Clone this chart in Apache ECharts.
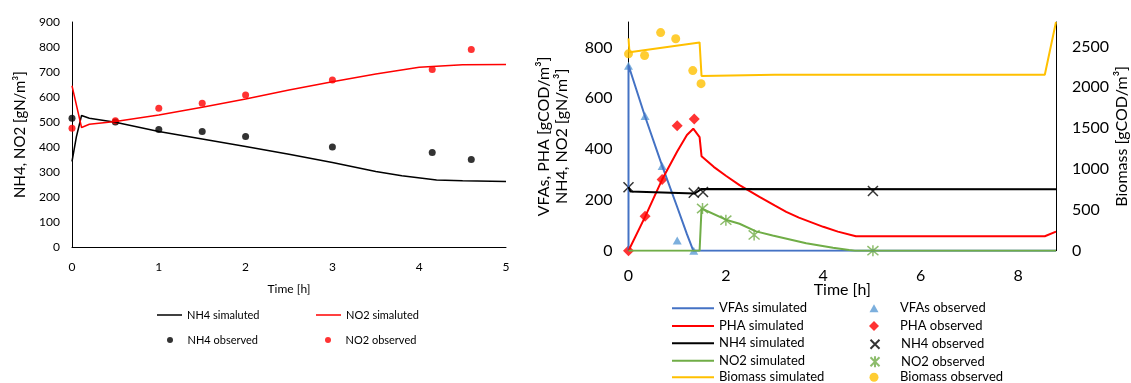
<!DOCTYPE html>
<html><head><meta charset="utf-8">
<script src="https://cdn.jsdelivr.net/npm/echarts@6/dist/echarts.min.js"></script>
<style>html,body{margin:0;padding:0;background:#fff}#c{width:1131px;height:383px}</style>
</head><body><div id="c"></div>
<script>
// ---------- Left chart data (Time [h], gN/m3) ----------
const leftSimTimeNH4 = [0, 0.05, 0.11, 0.2, 0.5, 1, 1.5, 2, 2.5, 3, 3.5, 3.8, 4.2, 4.5, 5];
const leftSimNH4     = [342, 440, 526, 515, 499, 462, 432, 402, 371, 338, 302, 285, 268, 265, 262];
const leftSimTimeNO2 = [0, 0.11, 0.2, 0.5, 1, 1.5, 2, 2.5, 3, 3.5, 4, 4.5, 5];
const leftSimNO2     = [645, 478, 491, 502, 528, 559, 592, 628, 661, 692, 719, 729, 730];
const leftObsTime    = [0, 0.5, 1, 1.5, 2, 3, 4.15, 4.6];
const leftObsNH4     = [515, 500, 470, 462, 442, 400, 378, 350];
const leftObsNO2     = [475, 505, 555, 575, 608, 668, 710, 790];

// ---------- Right chart data ----------
const vfaSimTime  = [0, 0, 0.34, 0.69, 1.0, 1.2, 1.33, 8.78];
const vfaSim      = [0, 730, 528, 335, 172, 65, 0, 0];
const phaSimTime  = [0, 0.34, 0.69, 1.0, 1.2, 1.33, 1.46, 1.5, 1.75, 2.0, 2.28, 2.69, 3.0, 3.24, 3.5, 4.0, 4.3, 4.67, 8.55, 8.78];
const phaSim      = [0, 133, 280, 390, 455, 480, 447, 372, 330, 295, 258, 212, 178, 153, 130, 94, 75, 57, 57, 75];
const nh4SimTime  = [0, 0.04, 1.36, 1.5, 8.78];
const nh4Sim      = [251, 233, 225, 243, 242];
const no2SimTime  = [0, 1.46, 1.5, 2.0, 2.28, 2.62, 2.96, 3.65, 4.2, 4.53, 4.65, 8.78];
const no2Sim      = [0, 0, 166, 122, 106, 76, 60, 29, 12, 3, 0, 0];
const bioSimTime  = [0, 0.02, 1.46, 1.5, 3, 8.55, 8.78];
const bioSim      = [2600, 2430, 2550, 2140, 2155, 2155, 2800];

const vfaObsTime = [0, 0.34, 0.69, 1.0, 1.34];
const vfaObs     = [728, 530, 333, 40, 0];
const phaObsTime = [0, 0.34, 0.69, 1.0, 1.35];
const phaObs     = [0, 136, 280, 492, 518];
const nh4ObsTime = [0, 1.34, 1.53, 5.02];
const nh4Obs     = [250, 228, 231, 235];
const no2ObsTime = [1.52, 2.0, 2.58, 5.02];
const no2Obs     = [166, 120, 62, 0];
const bioObsTime = [0, 0.33, 0.66, 0.97, 1.32, 1.49];
const bioObs     = [2410, 2390, 2670, 2595, 2205, 2045];

const zip = (t, v) => t.map((x, i) => [x, v[i]]);
const FONT = 'Lato';
const X_SYM = 'path://M0,0L10,10M10,0L0,10';
const STAR_SYM = 'path://M0,0L10,10M10,0L0,10M5,-1L5,11';

// legend icon paths; bounding boxes padded with move-to points so they are drawn 1:1 in the icon box
const IC_S_LINE = 'path://M0,6.25H25V7.75H0ZM0,0M25,14';
const IC_S_DOT  = 'path://M9.5,7A3,3,0,1,1,15.5,7A3,3,0,1,1,9.5,7ZM0,0M25,14';
const IC_LINE   = 'path://M0,7H42V9H0ZM0,0M42,16';
const IC_TRI    = 'path://M21,4L25.5,12H16.5ZM0,0M42,16';
const IC_DIA    = 'path://M21,3L26,8L21,13L16,8ZM0,0M42,16';
const IC_X      = 'path://M16.5,3.5L25.5,12.5M25.5,3.5L16.5,12.5M0,0M42,16';
const IC_STAR   = 'path://M16.5,3.5L25.5,12.5M25.5,3.5L16.5,12.5M21,2.5L21,13.5M0,0M42,16';
const IC_CIRC   = 'path://M16.5,8A4.5,4.5,0,1,1,25.5,8A4.5,4.5,0,1,1,16.5,8ZM0,0M42,16';

function leg(name, icon, left, top, w, h, fs) {
  return { data: [{ name: name, icon: icon }], left: left, top: top, itemWidth: w, itemHeight: h, padding: 0,
    selectedMode: false, orient: 'horizontal',
    textStyle: { fontFamily: FONT, fontSize: fs, color: '#000' } };
}

const chart = echarts.init(document.getElementById('c'), null, { renderer: 'canvas' });
const axisLbl = (fs, m) => ({ fontFamily: FONT, fontSize: fs, color: '#000', margin: m, formatter: v => String(v) });
const blackLine = { show: true, onZero: false, lineStyle: { color: '#000', width: 1 } };

function lineS(name, xi, yi, color, width, t, v) {
  return { name: name, type: 'line', xAxisIndex: xi, yAxisIndex: yi, symbol: 'none', showSymbol: false,
    lineStyle: { color: color, width: width }, itemStyle: { color: color }, data: zip(t, v) };
}

chart.setOption({
  animation: false,
  textStyle: { fontFamily: FONT },
  grid: [
    { left: 72, top: 22, width: 434, height: 225 },
    { left: 628.5, top: 22, width: 428.5, height: 228.7 }
  ],
  xAxis: [
    { type: 'value', gridIndex: 0, min: 0, max: 5, interval: 1,
      axisLine: blackLine, axisTick: { show: false }, splitLine: { show: false },
      axisLabel: axisLbl(12, 14),
      name: 'Time [h]', nameLocation: 'middle', nameGap: 36, nameMoveOverlap: false,
      nameTextStyle: { fontFamily: FONT, fontSize: 12, color: '#000' } },
    { type: 'value', gridIndex: 1, min: 0, max: 8.78, interval: 2,
      axisLine: blackLine, axisTick: { show: false }, splitLine: { show: false },
      axisLabel: Object.assign(axisLbl(16, 17), { showMaxLabel: false }),
      name: 'Time [h]', nameLocation: 'middle', nameGap: 31, nameMoveOverlap: false,
      nameTextStyle: { fontFamily: FONT, fontSize: 16, color: '#000' } }
  ],
  yAxis: [
    { type: 'value', gridIndex: 0, min: 0, max: 900, interval: 100,
      axisLine: blackLine, axisTick: { show: false }, splitLine: { show: false },
      axisLabel: axisLbl(12, 12),
      name: 'NH4, NO2 [gN/m³]', nameLocation: 'middle', nameGap: 44,
      nameTextStyle: { fontFamily: FONT, fontSize: 15, color: '#000' } },
    { type: 'value', gridIndex: 1, min: 0, max: 900, interval: 200,
      axisLine: blackLine, axisTick: { show: false }, splitLine: { show: false },
      axisLabel: Object.assign(axisLbl(16, 16), { showMaxLabel: false }),
      name: 'VFAs, PHA [gCOD/m³]\nNH4, NO2 [gN/m³]', nameLocation: 'middle', nameGap: 58,
      nameTextStyle: { fontFamily: FONT, fontSize: 16, color: '#000', lineHeight: 18 } },
    { type: 'value', gridIndex: 1, position: 'right', min: 0, max: 2800, interval: 500,
      axisLine: blackLine, axisTick: { show: false }, splitLine: { show: false },
      axisLabel: Object.assign(axisLbl(16, 16), { showMaxLabel: false }),
      name: 'Biomass [gCOD/m³]', nameLocation: 'middle', nameGap: 58,
      nameTextStyle: { fontFamily: FONT, fontSize: 16, color: '#000' } }
  ],
  legend: [
    leg('NH4 simaluted', IC_S_LINE, 157, 308, 25, 14, 11),
    leg('NO2 simaluted', IC_S_LINE, 316, 308, 25, 14, 11),
    leg('NH4 observed', IC_S_DOT, 157.5, 333, 25, 14, 11),
    leg('NO2 observed', IC_S_DOT, 315.5, 333, 25, 14, 11),
    leg('VFAs simulated', IC_LINE, 672, 300.3, 42, 16, 13),
    leg('PHA simulated', IC_LINE, 672, 318, 42, 16, 13),
    leg('NH4 simulated', IC_LINE, 672, 335.3, 42, 16, 13),
    leg('NO2 simulated', IC_LINE, 672, 352.7, 42, 16, 13),
    leg('Biomass simulated', IC_LINE, 672, 369.3, 42, 16, 13),
    leg('VFAs observed', IC_TRI, 853, 300.3, 42, 16, 13),
    leg('PHA observed', IC_DIA, 853, 318, 42, 16, 13),
    leg('NH4 observed ', IC_X, 853, 335.3, 42, 16, 13),
    leg('NO2 observed ', IC_STAR, 853, 352.7, 42, 16, 13),
    leg('Biomass observed', IC_CIRC, 853, 369.3, 42, 16, 13)
  ],
  series: [
    // left chart
    lineS('NH4 simaluted', 0, 0, '#000', 1.5, leftSimTimeNH4, leftSimNH4),
    lineS('NO2 simaluted', 0, 0, '#ff0000', 1.5, leftSimTimeNO2, leftSimNO2),
    { name: 'NH4 observed', type: 'scatter', xAxisIndex: 0, yAxisIndex: 0, symbol: 'circle', symbolSize: 7,
      itemStyle: { color: '#000' }, data: zip(leftObsTime, leftObsNH4) },
    { name: 'NO2 observed', type: 'scatter', xAxisIndex: 0, yAxisIndex: 0, symbol: 'circle', symbolSize: 7,
      itemStyle: { color: '#ff0000' }, data: zip(leftObsTime, leftObsNO2) },
    // right chart
    lineS('VFAs simulated', 1, 1, '#4472C4', 2, vfaSimTime, vfaSim),
    lineS('PHA simulated', 1, 1, '#ff0000', 2, phaSimTime, phaSim),
    lineS('NH4 simulated', 1, 1, '#000', 2, nh4SimTime, nh4Sim),
    lineS('NO2 simulated', 1, 1, '#70AD47', 2, no2SimTime, no2Sim),
    lineS('Biomass simulated', 1, 2, '#FFC000', 2, bioSimTime, bioSim),
    { name: 'VFAs observed', type: 'scatter', xAxisIndex: 1, yAxisIndex: 1, symbol: 'triangle', symbolSize: [9, 8],
      itemStyle: { color: '#5B9BD5' }, data: zip(vfaObsTime, vfaObs) },
    { name: 'PHA observed', type: 'scatter', xAxisIndex: 1, yAxisIndex: 1, symbol: 'diamond', symbolSize: 11,
      itemStyle: { color: '#ff0000' }, data: zip(phaObsTime, phaObs) },
    { name: 'NH4 observed ', type: 'scatter', xAxisIndex: 1, yAxisIndex: 1, symbol: X_SYM, symbolSize: 10,
      itemStyle: { color: 'transparent', borderColor: '#000', borderWidth: 1.5 }, data: zip(nh4ObsTime, nh4Obs) },
    { name: 'NO2 observed ', type: 'scatter', xAxisIndex: 1, yAxisIndex: 1, symbol: STAR_SYM, symbolSize: 11,
      itemStyle: { color: 'transparent', borderColor: '#70AD47', borderWidth: 1.5 }, data: zip(no2ObsTime, no2Obs) },
    { name: 'Biomass observed', type: 'scatter', xAxisIndex: 1, yAxisIndex: 2, symbol: 'circle', symbolSize: 9,
      itemStyle: { color: '#FFC000' }, data: zip(bioObsTime, bioObs) }
  ]
});
</script></body></html>
